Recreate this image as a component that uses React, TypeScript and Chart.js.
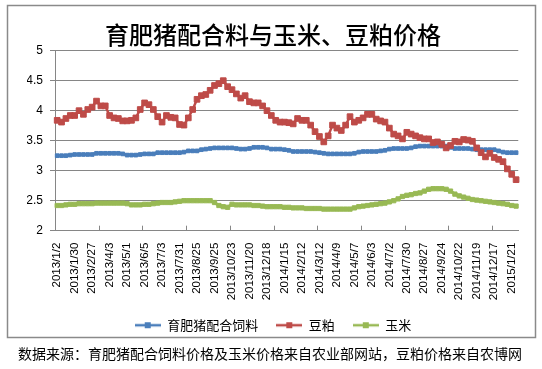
import React, { useEffect, useRef } from 'react';
import { Chart, registerables } from 'chart.js';

Chart.register(...registerables);

const TITLE = '育肥猪配合料与玉米、豆粕价格';
const SOURCE = '数据来源：育肥猪配合饲料价格及玉米价格来自农业部网站，豆粕价格来自农博网';
const SERIES_NAMES = ['育肥猪配合饲料', '豆粕', '玉米'];
const SERIES_COLORS = ['#4A7EBB', '#BE4B48', '#98B954'];

const dates = [
  '2013/1/2', '2013/1/9', '2013/1/16', '2013/1/23', '2013/1/30', '2013/2/6', '2013/2/13', '2013/2/20',
  '2013/2/27', '2013/3/6', '2013/3/13', '2013/3/27', '2013/4/3', '2013/4/10', '2013/4/17', '2013/4/24',
  '2013/5/1', '2013/5/8', '2013/5/15', '2013/5/29', '2013/6/5', '2013/6/12', '2013/6/19', '2013/6/26',
  '2013/7/3', '2013/7/10', '2013/7/17', '2013/7/24', '2013/7/31', '2013/8/7', '2013/8/14', '2013/8/21',
  '2013/8/25', '2013/9/4', '2013/9/11', '2013/9/18', '2013/9/25', '2013/10/2', '2013/10/9', '2013/10/16',
  '2013/10/23', '2013/10/30', '2013/11/6', '2013/11/13', '2013/11/20', '2013/11/27', '2013/12/4', '2013/12/11',
  '2013/12/18', '2013/12/25', '2014/1/1', '2014/1/8', '2014/1/15', '2014/1/22', '2014/1/29', '2014/2/5',
  '2014/2/12', '2014/2/19', '2014/2/26', '2014/3/5', '2014/3/12', '2014/3/19', '2014/3/26', '2014/4/2',
  '2014/4/9', '2014/4/16', '2014/4/23', '2014/4/30', '2014/5/7', '2014/5/14', '2014/5/21', '2014/5/28',
  '2014/6/3', '2014/6/11', '2014/6/18', '2014/6/25', '2014/7/2', '2014/7/9', '2014/7/16', '2014/7/23',
  '2014/7/30', '2014/8/6', '2014/8/13', '2014/8/20', '2014/8/27', '2014/9/3', '2014/9/10', '2014/9/17',
  '2014/9/24', '2014/10/1', '2014/10/8', '2014/10/15', '2014/10/22', '2014/10/29', '2014/11/5', '2014/11/12',
  '2014/11/19', '2014/11/26', '2014/12/3', '2014/12/10', '2014/12/17', '2014/12/24', '2014/12/31', '2015/1/14',
  '2015/1/21', '2015/1/28',
];

const feedPrice = [
  3.25, 3.25, 3.25, 3.26, 3.27, 3.27, 3.27, 3.27, 3.27, 3.29, 3.29, 3.29, 3.29, 3.29, 3.29, 3.28,
  3.26, 3.26, 3.26, 3.27, 3.28, 3.28, 3.28, 3.30, 3.30, 3.30, 3.30, 3.30, 3.30, 3.31, 3.33, 3.33,
  3.33, 3.35, 3.36, 3.37, 3.38, 3.38, 3.38, 3.38, 3.38, 3.37, 3.36, 3.36, 3.37, 3.39, 3.39, 3.39,
  3.38, 3.36, 3.36, 3.36, 3.35, 3.34, 3.32, 3.32, 3.32, 3.32, 3.32, 3.31, 3.30, 3.29, 3.28, 3.28,
  3.28, 3.28, 3.28, 3.28, 3.29, 3.31, 3.32, 3.32, 3.32, 3.32, 3.33, 3.34, 3.36, 3.37, 3.37, 3.37,
  3.37, 3.38, 3.40, 3.41, 3.41, 3.41, 3.41, 3.41, 3.41, 3.41, 3.39, 3.37, 3.37, 3.37, 3.37, 3.36,
  3.35, 3.35, 3.35, 3.35, 3.35, 3.33, 3.31, 3.30, 3.30, 3.30,
];

const soymealPrice = [
  3.84, 3.81, 3.87, 3.92, 3.92, 4.00, 3.94, 4.02, 4.06, 4.16, 4.08, 4.08, 3.92, 3.88, 3.87, 3.83,
  3.83, 3.84, 3.88, 4.02, 4.13, 4.10, 4.02, 3.90, 3.81, 3.92, 3.89, 3.88, 3.77, 3.76, 3.88, 4.02,
  4.19, 4.25, 4.27, 4.34, 4.42, 4.45, 4.50, 4.40, 4.35, 4.28, 4.21, 4.25, 4.15, 4.13, 4.13, 4.08,
  4.00, 3.92, 3.84, 3.81, 3.81, 3.80, 3.78, 3.87, 3.84, 3.84, 3.76, 3.65, 3.57, 3.48, 3.58, 3.76,
  3.71, 3.67, 3.76, 3.90, 3.81, 3.84, 3.88, 3.94, 3.94, 3.86, 3.83, 3.81, 3.71, 3.61, 3.58, 3.53,
  3.64, 3.61, 3.58, 3.55, 3.53, 3.53, 3.47, 3.48, 3.44, 3.38, 3.42, 3.49, 3.48, 3.52, 3.51, 3.49,
  3.38, 3.30, 3.23, 3.29, 3.22, 3.19, 3.15, 3.03, 2.94, 2.85,
];

const cornPrice = [
  2.42, 2.42, 2.43, 2.44, 2.44, 2.45, 2.45, 2.45, 2.45, 2.46, 2.46, 2.46, 2.46, 2.46, 2.46, 2.46,
  2.45, 2.43, 2.43, 2.43, 2.44, 2.44, 2.45, 2.46, 2.47, 2.47, 2.47, 2.48, 2.49, 2.50, 2.50, 2.50,
  2.50, 2.50, 2.50, 2.50, 2.47, 2.42, 2.40, 2.39, 2.44, 2.43, 2.43, 2.43, 2.43, 2.42, 2.42, 2.41,
  2.40, 2.40, 2.40, 2.40, 2.39, 2.39, 2.38, 2.38, 2.38, 2.37, 2.37, 2.37, 2.37, 2.36, 2.36, 2.36,
  2.36, 2.36, 2.36, 2.36, 2.38, 2.40, 2.41, 2.42, 2.43, 2.44, 2.45, 2.46, 2.48, 2.50, 2.53, 2.57,
  2.59, 2.60, 2.62, 2.63, 2.66, 2.69, 2.70, 2.70, 2.70, 2.69, 2.66, 2.61, 2.58, 2.56, 2.54, 2.52,
  2.51, 2.50, 2.49, 2.48, 2.47, 2.46, 2.45, 2.44, 2.42, 2.41,
];

const Y_MIN = 2;
const Y_MAX = 5;
const Y_STEP = 0.5;
const LABEL_EVERY = 4;
const TICK_MARK_EVERY = 10;

const CJK = '"Noto Sans CJK SC", "Noto Sans", sans-serif';
const LATIN = '"Liberation Sans", Arial, sans-serif';
const GRID = '#868686';

function legendIcon(color: string): HTMLCanvasElement {
  const c = document.createElement('canvas');
  c.width = 26;
  c.height = 8;
  const g = c.getContext('2d')!;
  g.strokeStyle = color;
  g.lineWidth = 2.5;
  g.beginPath();
  g.moveTo(0, 4);
  g.lineTo(26, 4);
  g.stroke();
  g.fillStyle = color;
  g.fillRect(10, 1, 6, 6);
  return c;
}

const framePlugin = {
  id: 'frame',
  beforeDraw(chart: any) {
    const ctx = chart.ctx;
    ctx.save();
    ctx.fillStyle = '#ffffff';
    ctx.fillRect(0, 0, chart.width, chart.height);
    ctx.restore();
  },
  beforeDatasetsDraw(chart: any) {
    const ctx = chart.ctx;
    const xs = chart.scales.x;
    const bottom = chart.chartArea.bottom;
    ctx.save();
    ctx.strokeStyle = GRID;
    ctx.lineWidth = 1;
    for (let i = TICK_MARK_EVERY; i < dates.length; i += TICK_MARK_EVERY) {
      const x = Math.round((xs.getPixelForValue(i - 1) + xs.getPixelForValue(i)) / 2) + 0.5;
      ctx.beginPath();
      ctx.moveTo(x, bottom);
      ctx.lineTo(x, bottom - 5);
      ctx.stroke();
    }
    ctx.restore();
  },
  afterDraw(chart: any) {
    const ctx = chart.ctx;
    ctx.save();
    ctx.strokeStyle = '#8a8a8a';
    ctx.lineWidth = 1.5;
    ctx.strokeRect(7.5, 5.5, 528, 332);
    ctx.fillStyle = '#000';
    ctx.font = `14px ${CJK}`;
    ctx.textAlign = 'center';
    ctx.textBaseline = 'middle';
    ctx.fillText(SOURCE, 270, 354);
    ctx.restore();
  },
};

export default function App() {
  const ref = useRef<HTMLCanvasElement | null>(null);

  useEffect(() => {
    if (!ref.current) return;
    const icons = SERIES_COLORS.map(legendIcon);
    const seriesData = [feedPrice, soymealPrice, cornPrice];
    const radii = [2.6, 4, 3];
    const widths = [3, 2.5, 3];
    const orders = [3, 2, 1];

    const chart = new Chart(ref.current, {
      type: 'line',
      data: {
        labels: dates,
        datasets: seriesData.map((d, i) => ({
          label: SERIES_NAMES[i],
          data: d,
          borderColor: SERIES_COLORS[i],
          backgroundColor: SERIES_COLORS[i],
          pointBackgroundColor: SERIES_COLORS[i],
          pointBorderColor: SERIES_COLORS[i],
          pointStyle: 'rect',
          pointRadius: radii[i],
          pointBorderWidth: 1,
          borderWidth: widths[i],
          tension: 0,
          fill: false,
          order: orders[i],
        })),
      },
      options: {
        animation: false,
        responsive: false,
        devicePixelRatio: 1,
        layout: { padding: { left: 27, right: 23, top: 8, bottom: 27.3 } },
        plugins: {
          tooltip: { enabled: false },
          title: {
            display: true,
            text: TITLE,
            color: '#000',
            font: { family: CJK, size: 24, weight: '500' },
            padding: { top: 12.1, bottom: 1.8 },
          },
          legend: {
            position: 'bottom',
            labels: {
              usePointStyle: true,
              pointStyleWidth: 26,
              padding: 18,
              color: '#000',
              font: { family: CJK, size: 13 },
              sort: (a: any, b: any) => a.datasetIndex - b.datasetIndex,
              generateLabels: (c: any) => {
                const items = Chart.defaults.plugins.legend.labels.generateLabels(c);
                return items.map((it: any) => ({ ...it, pointStyle: icons[it.datasetIndex] }));
              },
            },
          },
        },
        scales: {
          x: {
            type: 'category',
            offset: true,
            afterFit: (s: any) => { s.height = 70; },
            grid: { display: false, drawTicks: false },
            border: { display: true, color: GRID, width: 1 },
            ticks: {
              autoSkip: false,
              maxRotation: 90,
              minRotation: 90,
              padding: 12,
              color: '#000',
              font: { family: LATIN, size: 11.5 },
              callback: (_v: any, idx: number) => (idx % LABEL_EVERY === 0 ? dates[idx] : ''),
            },
          },
          y: {
            min: Y_MIN,
            max: Y_MAX,
            afterFit: (s: any) => { s.width = 28; },
            grid: { color: GRID, lineWidth: 1, tickLength: 5, drawTicks: true },
            border: { display: true, color: GRID, width: 1 },
            ticks: {
              stepSize: Y_STEP,
              padding: 7,
              color: '#000',
              font: { family: LATIN, size: 12 },
              callback: (v: any) => String(Number(v)),
            },
          },
        },
      },
      plugins: [framePlugin],
    } as any);

    return () => chart.destroy();
  }, []);

  return (
    <div style={{ position: 'fixed', left: 0, top: 0, width: 542, height: 369, background: '#fff' }}>
      <canvas ref={ref} width={542} height={369} style={{ display: 'block', width: 542, height: 369 }} />
    </div>
  );
}
